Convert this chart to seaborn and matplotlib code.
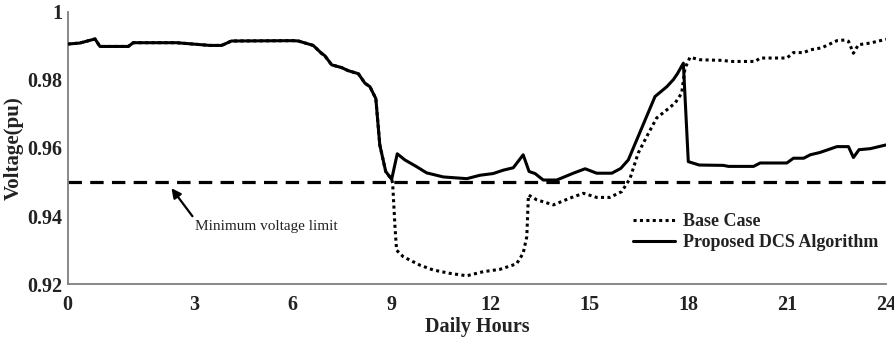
import matplotlib
matplotlib.use("Agg")
import matplotlib.pyplot as plt
import seaborn as sns
import pandas as pd

# Morning profile shared by both cases (hours, p.u.)
morning_hours = [-0.83, -0.46, 0.0, 0.15, 1.01, 1.16, 2.47, 3.49, 3.84, 4.14,
                 6.01, 6.17, 6.62, 6.87, 6.97, 7.18, 7.48, 7.68, 7.99, 8.19,
                 8.34, 8.52, 8.64, 8.82, 9.0]
morning_volts = [0.9905, 0.9908, 0.9920, 0.9898, 0.9898, 0.9909, 0.9909, 0.9901, 0.9901, 0.9914,
                 0.9915, 0.9914, 0.9901, 0.9878, 0.9871, 0.9844, 0.9836, 0.9827, 0.9818, 0.9790,
                 0.9780, 0.9745, 0.9609, 0.9531, 0.9508]

# Proposed DCS algorithm after 9 h
dcs_hours = [9.17, 9.40, 9.76, 10.06, 10.57, 11.28, 11.68, 12.08, 12.39, 12.69,
             12.99, 13.17, 13.35, 13.60, 14.01, 14.51, 14.87, 15.22, 15.68, 15.95,
             16.18, 16.48, 16.99, 17.35, 17.55, 17.67, 17.85, 18.0, 18.33, 19.06,
             19.22, 19.98, 20.18, 20.99, 21.19, 21.50, 21.70, 22.0, 22.51, 22.86,
             23.01, 23.18, 23.52, 24.0]
dcs_volts = [0.9583, 0.9565, 0.9545, 0.9527, 0.9515, 0.9510, 0.9520, 0.9525, 0.9535, 0.9542,
             0.9580, 0.9531, 0.9525, 0.9506, 0.9506, 0.9526, 0.9539, 0.9526, 0.9526, 0.9540,
             0.9565, 0.9634, 0.9751, 0.9780, 0.9801, 0.9818, 0.9849, 0.9560, 0.9550, 0.9549,
             0.9546, 0.9546, 0.9556, 0.9556, 0.9570, 0.9570, 0.9580, 0.9587, 0.9604, 0.9604,
             0.9572, 0.9595, 0.9598, 0.9609]

# Base case after 9 h
base_hours = [9.03, 9.10, 9.15, 9.35, 9.86, 10.26, 10.77, 11.28, 11.78, 12.29,
              12.79, 12.99, 13.10, 13.15, 13.40, 13.91, 14.41, 14.82, 15.22, 15.62,
              15.98, 16.23, 16.48, 16.79, 17.04, 17.35, 17.60, 17.80, 17.90, 18.05,
              18.36, 19.06, 19.27, 20.03, 20.18, 20.99, 21.19, 21.50, 21.70, 22.05,
              22.51, 22.76, 22.86, 23.01, 23.16, 23.52, 24.0]
base_volts = [0.9497, 0.9370, 0.9300, 0.9281, 0.9256, 0.9242, 0.9232, 0.9225, 0.9237, 0.9244,
              0.9260, 0.9291, 0.9340, 0.9462, 0.9448, 0.9433, 0.9453, 0.9467, 0.9455, 0.9455,
              0.9472, 0.9510, 0.9585, 0.9643, 0.9688, 0.9712, 0.9732, 0.9761, 0.9834, 0.9866,
              0.9859, 0.9857, 0.9854, 0.9854, 0.9864, 0.9864, 0.9880, 0.9880, 0.9888, 0.9894,
              0.9915, 0.9917, 0.9913, 0.9878, 0.9903, 0.9908, 0.9919]

v_min_limit = 0.95

x_tick_pos = [-0.83, 3, 6, 9, 12, 15, 18, 21, 24]
x_tick_labels = ["0", "3", "6", "9", "12", "15", "18", "21", "24"]
y_ticks = [0.92, 0.94, 0.96, 0.98, 1.0]
y_tick_labels = ["0.92", "0.94", "0.96", "0.98", "1"]

sns.set_style("white")
plt.rcParams["font.family"] = ["Liberation Serif", "DejaVu Serif"]

base_df = pd.DataFrame({"hour": morning_hours + base_hours,
                        "volt": morning_volts + base_volts})
dcs_df = pd.DataFrame({"hour": morning_hours + dcs_hours,
                       "volt": morning_volts + dcs_volts})

fig = plt.figure(figsize=(8.95, 3.39), dpi=100)
ax = fig.add_axes([0.0756, 0.1614, 0.9144, 0.8041])

ax.axhline(v_min_limit, color="black", lw=2.3, dashes=(4.2, 2.6), zorder=1)
sns.lineplot(data=base_df, x="hour", y="volt", ax=ax, sort=False, estimator=None,
             color="black", lw=2.2, label="Base Case", zorder=2)
ax.lines[-1].set_linestyle((0, (1, 1.1)))
sns.lineplot(data=dcs_df, x="hour", y="volt", ax=ax, sort=False, estimator=None,
             color="black", lw=2.2, label="Proposed DCS Algorithm", zorder=3)

ax.set_xlim(x_tick_pos[0], x_tick_pos[-1])
ax.set_ylim(0.92, 1.0)
ax.set_xticks(x_tick_pos)
ax.set_xticklabels(x_tick_labels)
ax.set_yticks(y_ticks)
ax.set_yticklabels(y_tick_labels)

for side in ("top", "right"):
    ax.spines[side].set_visible(False)
for side in ("left", "bottom"):
    ax.spines[side].set_color("#7f7f7f")
    ax.spines[side].set_linewidth(1.3)

ax.tick_params(axis="both", direction="in", length=6, width=1.3, color="#7f7f7f",
               labelsize=14.5, labelcolor="#222222")
ax.tick_params(axis="x", pad=8)
ax.tick_params(axis="y", pad=4)
for lbl in ax.get_xticklabels() + ax.get_yticklabels():
    lbl.set_fontweight("bold")

ax.set_xlabel("Daily Hours", fontsize=14.5, fontweight="bold", color="#222222", labelpad=1)
ax.set_ylabel("Voltage(pu)", fontsize=15, fontweight="bold", color="#222222", labelpad=2)

ax.annotate("Minimum voltage limit", xy=(2.32, 0.9482), xytext=(3.03, 0.9371),
            fontsize=11, color="#222222", ha="left", va="center",
            arrowprops=dict(arrowstyle="-|>", color="black", lw=1.6,
                            mutation_scale=14, relpos=(0, 1), shrinkA=0, shrinkB=0))

leg = ax.legend(loc="upper left", bbox_to_anchor=(0.691, 0.262), frameon=False,
                borderpad=0, borderaxespad=0, handlelength=2.3, handletextpad=0.45,
                labelspacing=0.25, prop={"family": "Liberation Serif", "weight": "bold", "size": 13})
for t in leg.get_texts():
    t.set_color("#222222")

fig.savefig("out.png", dpi=100)
